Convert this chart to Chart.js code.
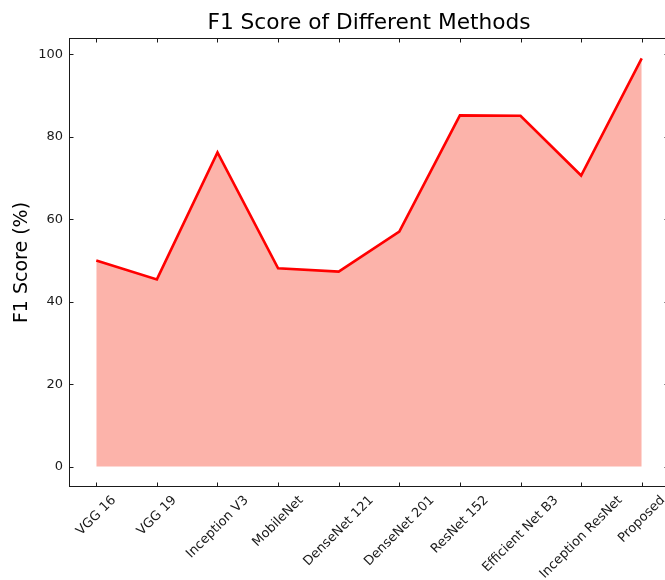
<!DOCTYPE html>
<html>
<head>
<meta charset="utf-8">
<script src="https://cdn.jsdelivr.net/npm/chart.js@4/dist/chart.umd.min.js"></script>
<style>
  html, body { margin: 0; padding: 0; background: #fff; overflow: hidden; }
  #wrap { width: 672px; height: 580px; }
</style>
</head>
<body>
<div id="wrap"><canvas id="myChart"></canvas></div>
<script>
const methods = ['VGG 16', 'VGG 19', 'Inception V3', 'MobileNet', 'DenseNet 121',
  'DenseNet 201', 'ResNet 152', 'Efficient Net B3', 'Inception ResNet', 'Proposed'];
const f1Scores = [50.0, 45.4, 76.2, 48.1, 47.3, 57.0, 85.2, 85.1, 70.6, 99.0];
const yTicks = [0, 20, 40, 60, 80, 100];

const font = 'DejaVu Sans';

// matplotlib style frame, inward ticks and rotated x labels
var mplFrame = {
  id: 'mplFrame',
  afterDraw: chart => {
    var ctx = chart.ctx;
    var a = chart.chartArea;
    var xs = chart.scales.x, ys = chart.scales.y;
    ctx.save();
    ctx.strokeStyle = '#1a1a1a';
    ctx.lineWidth = 1;
    var l = Math.round(a.left) + 0.5, r = Math.round(a.right) - 0.5;
    var t = Math.round(a.top) + 0.5, b = Math.round(a.bottom) - 0.5;
    ctx.strokeRect(l, t, r - l, b - t);
    ctx.beginPath();
    xs.ticks.forEach(tk => {
      var px = Math.round(xs.getPixelForValue(tk.value)) + 0.5;
      ctx.moveTo(px, b); ctx.lineTo(px, b - 4);
      ctx.moveTo(px, t); ctx.lineTo(px, t + 4);
    });
    ys.ticks.forEach(tk => {
      var py = Math.round(ys.getPixelForValue(tk.value)) + 0.5;
      ctx.moveTo(l, py); ctx.lineTo(l + 4, py);
      ctx.moveTo(r, py); ctx.lineTo(r - 4, py);
    });
    ctx.stroke();

    ctx.fillStyle = '#1a1a1a';
    ctx.font = '13px "' + font + '"';
    ctx.textAlign = 'center';
    ctx.textBaseline = 'middle';
    var h = 13 * 1.15;
    methods.forEach((m, i) => {
      var L = ctx.measureText(m).width;
      var H = (L + h) / Math.SQRT2;
      var px = xs.getPixelForValue(i);
      var cy = a.bottom + 6 + H / 2;
      ctx.save();
      ctx.translate(px, cy);
      ctx.rotate(-Math.PI / 4);
      ctx.fillText(m, 0, 0);
      ctx.restore();
    });
    ctx.restore();
  }
};

var ctx = document.getElementById('myChart').getContext('2d');
var chart = new Chart(ctx, {
  type: 'line',
  data: {
    datasets: [{
      data: f1Scores.map((v, i) => ({ x: i, y: v })),
      borderColor: 'rgb(255, 0, 0)',
      backgroundColor: 'rgba(250, 128, 114, 0.6)',
      borderWidth: 2.6,
      fill: 'origin',
      tension: 0,
      pointRadius: 0
    }]
  },
  options: {
    responsive: true,
    maintainAspectRatio: false,
    devicePixelRatio: 1,
    animation: false,
    layout: { padding: { left: 0, right: 3, top: 0, bottom: 0 } },
    plugins: {
      legend: { display: false },
      tooltip: { enabled: false },
      title: {
        display: true,
        text: 'F1 Score of Different Methods',
        fullSize: false,
        color: '#000',
        font: { family: font, size: 21.7, weight: 'normal' },
        padding: { top: 10.5, bottom: 1.5 }
      }
    },
    scales: {
      x: {
        type: 'linear',
        min: -0.45,
        max: 9.45,
        grid: { display: false, drawTicks: false },
        border: { display: false },
        ticks: { display: false },
        afterBuildTicks: s => { s.ticks = methods.map((m, i) => ({ value: i })); },
        afterFit: s => { s.height = 93; }
      },
      y: {
        min: -4.95,
        max: 103.95,
        grid: { display: false, drawTicks: false },
        border: { display: false },
        ticks: { color: '#1a1a1a', padding: 6, font: { family: font, size: 13 } },
        afterBuildTicks: s => { s.ticks = yTicks.map(v => ({ value: v })); },
        afterFit: s => { s.width = 69; },
        title: {
          display: true,
          text: 'F1 Score (%)',
          color: '#000',
          font: { family: font, size: 19 },
          padding: { top: 10.5, bottom: 0 }
        }
      }
    }
  },
  plugins: [mplFrame]
});
</script>
</body>
</html>
